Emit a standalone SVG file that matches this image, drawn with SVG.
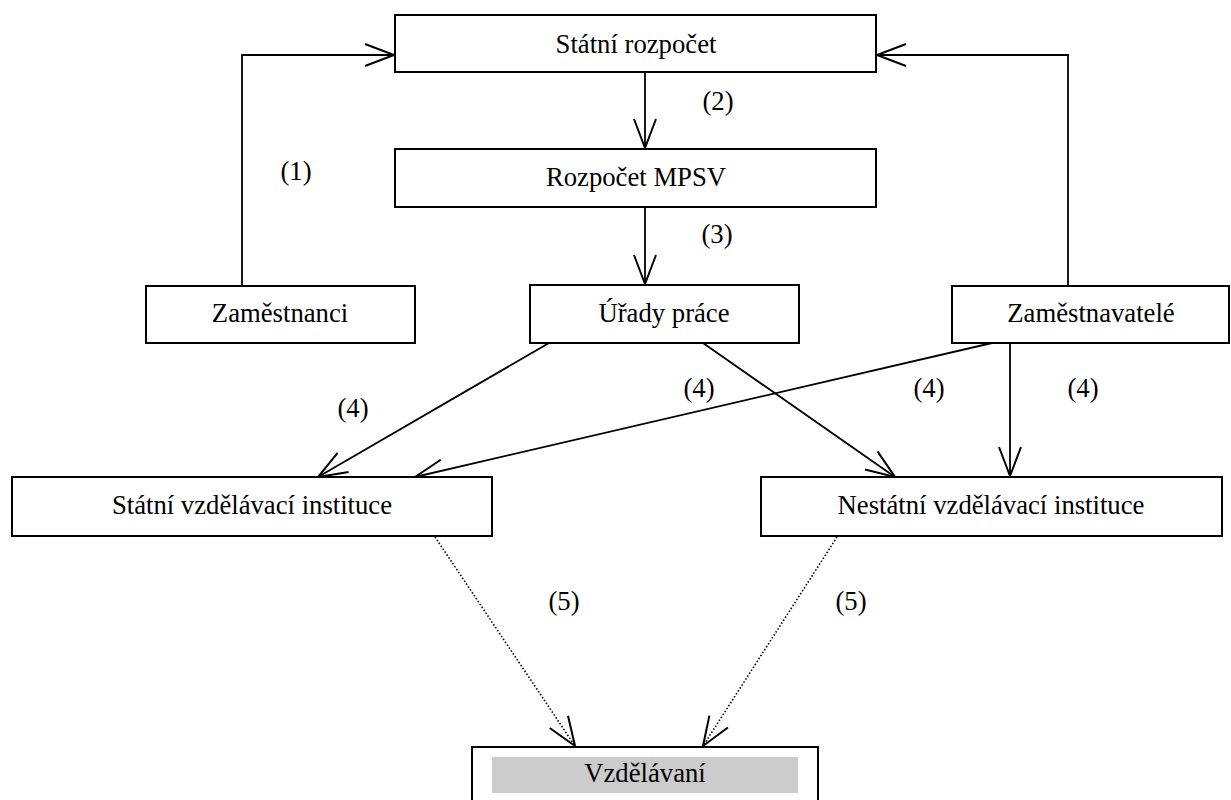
<svg xmlns="http://www.w3.org/2000/svg" width="1231" height="800" viewBox="0 0 1231 800">
<style>
.box{fill:#fff;stroke:#000;stroke-width:2}
.t{font-family:"Liberation Serif","Times New Roman",serif;font-size:26.7px;fill:#000;text-anchor:middle}
.c{fill:none;stroke:#000;stroke-width:1.8}
.d{fill:none;stroke:#000;stroke-width:1.6;stroke-dasharray:1.5 2}
</style>
<defs>
<marker id="a" markerUnits="userSpaceOnUse" markerWidth="40" markerHeight="30" refX="0" refY="0" viewBox="-32 -15 40 30" orient="auto" overflow="visible">
<path d="M-29,-11 L0,0 L-29,11" fill="none" stroke="#000" stroke-width="2" stroke-dasharray="none"/>
</marker>
</defs>
<rect width="1231" height="800" fill="#fff"/>
<g id="connectors">
<polyline class="c" points="242,286 242,55 394,55" marker-end="url(#a)"/>
<polyline class="c" points="1068,286 1068,55 877,55" marker-end="url(#a)"/>
<line class="c" x1="645" y1="72" x2="645" y2="148" marker-end="url(#a)"/>
<line class="c" x1="645" y1="207" x2="645" y2="284" marker-end="url(#a)"/>
<line class="c" x1="549" y1="343" x2="318" y2="477" marker-end="url(#a)"/>
<line class="c" x1="703" y1="343" x2="895" y2="477" marker-end="url(#a)"/>
<line class="c" x1="992" y1="343" x2="415" y2="477" marker-end="url(#a)"/>
<line class="c" x1="1010" y1="343" x2="1010" y2="476" marker-end="url(#a)"/>
<line class="d" x1="435" y1="537" x2="575" y2="746" marker-end="url(#a)"/>
<line class="d" x1="837" y1="537" x2="703" y2="746" marker-end="url(#a)"/>
</g>
<g id="labels">
<text class="t" x="296" y="180">(1)</text>
<text class="t" x="718" y="110">(2)</text>
<text class="t" x="717" y="243">(3)</text>
<text class="t" x="353" y="417">(4)</text>
<text class="t" x="699" y="397">(4)</text>
<text class="t" x="929" y="397">(4)</text>
<text class="t" x="1083" y="397">(4)</text>
<text class="t" x="564" y="610">(5)</text>
<text class="t" x="851" y="610">(5)</text>
</g>
<g id="statni-rozpocet"><rect class="box" x="395" y="15" width="481" height="57"/><text class="t" x="636" y="53">Státní rozpočet</text></g>
<g id="rozpocet-mpsv"><rect class="box" x="395" y="149" width="481" height="58"/><text class="t" x="636" y="186">Rozpočet MPSV</text></g>
<g id="zamestnanci"><rect class="box" x="146" y="286" width="269" height="57"/><text class="t" x="280" y="322">Zaměstnanci</text></g>
<g id="urady-prace"><rect class="box" x="530" y="285" width="269" height="58"/><text class="t" x="664" y="322">Úřady práce</text></g>
<g id="zamestnavatele"><rect class="box" x="952" y="286" width="277" height="57"/><text class="t" x="1091" y="322">Zaměstnavatelé</text></g>
<g id="statni-vzdelavaci"><rect class="box" x="12" y="477" width="480" height="59"/><text class="t" x="252" y="514">Státní vzdělávací instituce</text></g>
<g id="nestatni-vzdelavaci"><rect class="box" x="761" y="477" width="461" height="59"/><text class="t" x="991" y="514">Nestátní vzdělávací instituce</text></g>
<g id="vzdelavani"><rect class="box" x="472" y="747" width="346" height="70"/><rect x="492" y="757" width="306" height="36" fill="#cccccc"/><text class="t" x="645" y="782">Vzdělávaní</text></g>
</svg>
